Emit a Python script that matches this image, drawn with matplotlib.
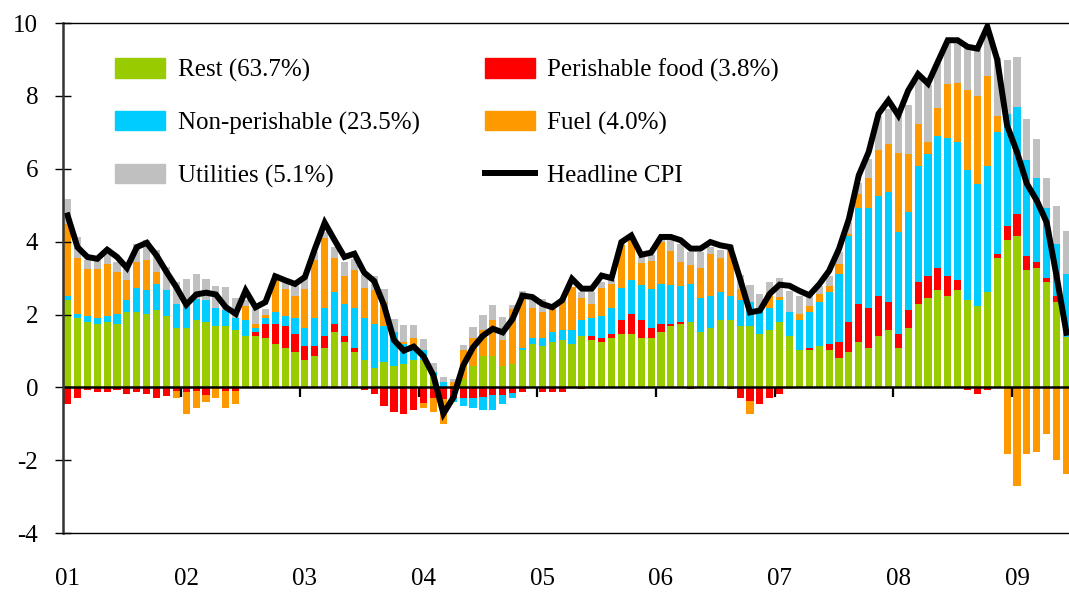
import numpy as np
import matplotlib
matplotlib.use("Agg")
import matplotlib.pyplot as plt
from matplotlib.lines import Line2D
from matplotlib.patches import Patch

plt.rcParams["font.family"] = ["Liberation Serif", "DejaVu Serif"]
plt.rcParams["axes.unicode_minus"] = False

years = ["01", "02", "03", "04", "05", "06", "07", "08", "09"]

# monthly contributions, Jan 2001 .. Jun 2009 (percentage points)
rest = [2.40, 1.91, 1.80, 1.74, 1.80, 1.74, 2.07, 2.07, 2.02, 2.13, 1.96, 1.63,
        1.63, 1.85, 1.80, 1.69, 1.69, 1.58, 1.41, 1.41, 1.36, 1.19, 1.08, 0.97,
        0.75, 0.86, 1.08, 1.52, 1.25, 0.97, 0.75, 0.53, 0.70, 0.59, 0.64, 0.75,
        0.75, 0.31, 0.00, 0.00, 0.22, 0.59, 0.86, 0.86, 0.59, 0.64, 1.03, 1.19,
        1.14, 1.25, 1.30, 1.19, 1.41, 1.30, 1.25, 1.36, 1.47, 1.47, 1.36, 1.36,
        1.52, 1.69, 1.74, 1.80, 1.52, 1.63, 1.85, 1.85, 1.69, 1.69, 1.47, 1.58,
        1.80, 1.40, 1.02, 1.02, 1.13, 1.02, 0.80, 0.96, 1.24, 1.07, 1.40, 1.57,
        1.07, 1.62, 2.28, 2.45, 2.67, 2.50, 2.67, 2.39, 2.23, 2.61, 3.55, 4.05,
        4.16, 3.22, 3.28, 2.89, 2.34, 1.37]
perishable = [-0.46, -0.28, -0.06, -0.12, -0.12, -0.06, -0.18, -0.12, -0.18, -0.29, -0.23, -0.09,
              -0.14, -0.09, -0.21, 0.00, -0.09, -0.09, 0.00, 0.11, 0.39, 0.55, 0.61, 0.50,
              0.39, 0.28, 0.33, 0.22, 0.17, 0.11, -0.06, -0.18, -0.50, -0.67, -0.73, -0.61,
              -0.43, -0.28, -0.32, -0.30, -0.28, -0.29, -0.26, -0.21, -0.21, -0.15, -0.12, -0.03,
              -0.12, -0.12, -0.12, 0.00, -0.05, 0.11, 0.11, 0.11, 0.39, 0.55, 0.50, 0.28,
              0.22, 0.06, 0.06, -0.05, 0.00, 0.00, 0.00, -0.05, -0.29, -0.37, -0.46, -0.29,
              -0.18, 0.00, 0.00, 0.06, 0.00, 0.17, 0.44, 0.83, 1.05, 1.10, 1.10, 0.77,
              0.39, 0.50, 0.61, 0.61, 0.61, 0.55, 0.28, -0.07, -0.17, -0.06, 0.11, 0.39,
              0.61, 0.39, 0.17, 0.11, 0.17, 0.00]
non_perishable = [0.12, 0.11, 0.16, 0.17, 0.16, 0.28, 0.33, 0.66, 0.66, 0.72, 0.72, 0.66,
                  0.60, 0.58, 0.60, 0.50, 0.44, 0.33, 0.44, 0.11, 0.16, 0.33, 0.28, 0.44,
                  0.50, 0.77, 0.77, 0.88, 0.88, 1.10, 1.16, 1.21, 0.99, 0.92, 0.55, 0.42,
                  0.28, 0.11, 0.15, -0.10, -0.23, -0.28, -0.36, -0.40, -0.25, -0.15, 0.06, 0.17,
                  0.22, 0.28, 0.28, 0.39, 0.44, 0.50, 0.61, 0.72, 0.88, 0.94, 0.94, 1.05,
                  1.10, 1.05, 0.99, 1.05, 0.94, 0.88, 0.77, 0.66, 0.72, 0.66, 0.66, 0.61,
                  0.61, 0.66, 0.83, 0.99, 1.21, 1.43, 1.87, 2.37, 2.64, 2.75, 2.75, 3.03,
                  2.81, 2.70, 3.19, 3.36, 3.61, 3.80, 3.80, 3.58, 3.36, 3.47, 3.36, 3.07,
                  2.92, 2.64, 2.31, 1.93, 1.43, 1.74]
fuel = [1.97, 1.54, 1.28, 1.33, 1.43, 1.16, 0.55, 0.72, 0.83, 0.33, 0.00, -0.19,
        -0.60, -0.48, -0.18, -0.28, -0.48, -0.37, 0.39, 0.11, 0.07, 0.91, 0.72, 0.61,
        1.05, 1.60, 1.93, 0.94, 0.77, 1.05, 0.83, 0.94, 0.65, 0.00, 0.06, 0.18,
        -0.14, -0.39, -0.69, 0.14, 0.81, 0.77, 0.72, 0.99, 0.72, 1.51, 1.49, 0.83,
        0.72, 0.61, 0.88, 1.17, 0.61, 0.39, 0.77, 0.66, 1.17, 1.10, 0.61, 0.77,
        1.15, 0.94, 0.66, 0.50, 0.83, 1.16, 0.94, 1.34, 0.28, -0.37, 0.00, 0.39,
        0.06, -0.05, 0.17, 0.17, 0.22, 0.17, 0.28, 0.06, 0.39, 0.83, 1.27, 1.32,
        2.16, 1.60, 1.16, 0.33, 0.77, 1.49, 1.60, 2.20, 2.42, 2.48, 0.44, -1.84,
        -2.72, -1.84, -1.78, -1.29, -2.00, -2.39]
utilities = [0.69, 0.57, 0.25, 0.25, 0.43, 0.27, 0.30, 0.50, 0.55, 0.59, 0.62, 0.60,
             0.75, 0.69, 0.58, 0.60, 0.63, 0.55, 0.15, 0.41, 0.18, 0.14, 0.21, 0.25,
             0.30, 0.20, 0.15, 0.29, 0.38, 0.30, 0.34, 0.39, 0.37, 0.37, 0.47, 0.36,
             0.30, 0.26, 0.14, 0.09, 0.14, 0.30, 0.41, 0.41, 0.61, 0.11, 0.07, 0.20,
             0.36, 0.05, 0.00, 0.00, 0.16, 0.32, 0.16, 0.09, 0.09, 0.05, 0.17, 0.17,
             0.15, 0.31, 0.50, 0.38, 0.43, 0.18, 0.20, 0.05, 0.39, 0.47, 0.44, 0.30,
             0.52, 0.59, 0.50, 0.28, 0.23, 0.28, 0.32, 0.32, 0.28, 0.52, 0.94, 0.96,
             1.05, 1.32, 1.24, 1.55, 1.26, 1.15, 1.10, 1.17, 1.29, 1.30, 1.57, 1.48,
             1.37, 1.13, 1.07, 0.83, 1.05, 1.18]
headline = [4.72, 3.85, 3.58, 3.53, 3.78, 3.58, 3.28, 3.85, 3.97, 3.62, 3.17, 2.75,
            2.27, 2.55, 2.60, 2.55, 2.20, 2.02, 2.66, 2.20, 2.34, 3.05, 2.94, 2.84,
            3.03, 3.80, 4.52, 4.04, 3.58, 3.67, 3.15, 2.92, 2.25, 1.30, 1.01, 1.12,
            0.85, 0.32, -0.72, -0.28, 0.60, 1.10, 1.42, 1.61, 1.51, 1.88, 2.52, 2.48,
            2.29, 2.20, 2.39, 2.98, 2.71, 2.71, 3.07, 3.00, 3.99, 4.17, 3.64, 3.70,
            4.13, 4.13, 4.04, 3.81, 3.81, 3.99, 3.90, 3.85, 2.98, 2.06, 2.11, 2.57,
            2.82, 2.79, 2.65, 2.53, 2.83, 3.20, 3.80, 4.62, 5.82, 6.46, 7.51, 7.88,
            7.47, 8.15, 8.60, 8.34, 8.94, 9.53, 9.53, 9.35, 9.30, 9.90, 9.00, 7.19,
            6.46, 5.59, 5.13, 4.53, 3.06, 1.50]

series = [
    ("Rest (63.7%)", rest, "#99CC00"),
    ("Perishable food (3.8%)", perishable, "#FF0000"),
    ("Non-perishable (23.5%)", non_perishable, "#00CCFF"),
    ("Fuel (4.0%)", fuel, "#FF9900"),
    ("Utilities (5.1%)", utilities, "#C0C0C0"),
]

n = len(headline)
x = np.arange(n) + 0.5

fig = plt.figure(figsize=(10.69, 5.93), dpi=100)
ax = fig.add_axes([0.0586, 0.101, 0.9414, 0.860])

pos_bottom = np.zeros(n)
neg_bottom = np.zeros(n)
for label, vals, color in series:
    v = np.array(vals)
    pos = np.where(v > 0, v, 0)
    neg = np.where(v < 0, v, 0)
    ax.bar(x, pos, 0.72, bottom=pos_bottom, color=color, linewidth=0)
    ax.bar(x, neg, 0.72, bottom=neg_bottom, color=color, linewidth=0)
    pos_bottom += pos
    neg_bottom += neg

ax.plot(x, headline, color="black", linewidth=4.3, solid_joinstyle="miter")

ax.axhline(0, color="black", linewidth=1.8)
year_starts = np.arange(len(years)) * 12
ax.vlines(year_starts[1:], -0.27, 0, color="black", linewidth=1.6)

ax.set_xlim(0, 101.76)
ax.set_ylim(-4, 10)
ax.set_yticks(range(-4, 11, 2))
ax.set_xticks(year_starts + 0.5)
ax.set_xticklabels(years)
ax.tick_params(axis="x", length=0, pad=25, labelsize=18)
ax.tick_params(axis="y", direction="inout", length=11, width=1, pad=12, labelsize=18)

for side in ["top", "bottom"]:
    ax.spines[side].set_linewidth(1.0)
ax.spines["left"].set_linewidth(1.8)
ax.spines["left"].set_color("#333333")
ax.spines["right"].set_visible(False)

handles = [Patch(color=c, label=l) for l, v, c in series]
handles = [handles[0], handles[2], handles[4], handles[1], handles[3],
           Line2D([0], [0], color="black", linewidth=4.3, label="Headline CPI")]
ax.legend(handles=handles, ncol=2, loc="upper left", bbox_to_anchor=(0.030, 0.975),
          frameon=False, fontsize=18, handlelength=2.0, handleheight=0.8,
          handletextpad=0.5, columnspacing=2.6, labelspacing=1.17)

fig.savefig("out.png", dpi=100)
